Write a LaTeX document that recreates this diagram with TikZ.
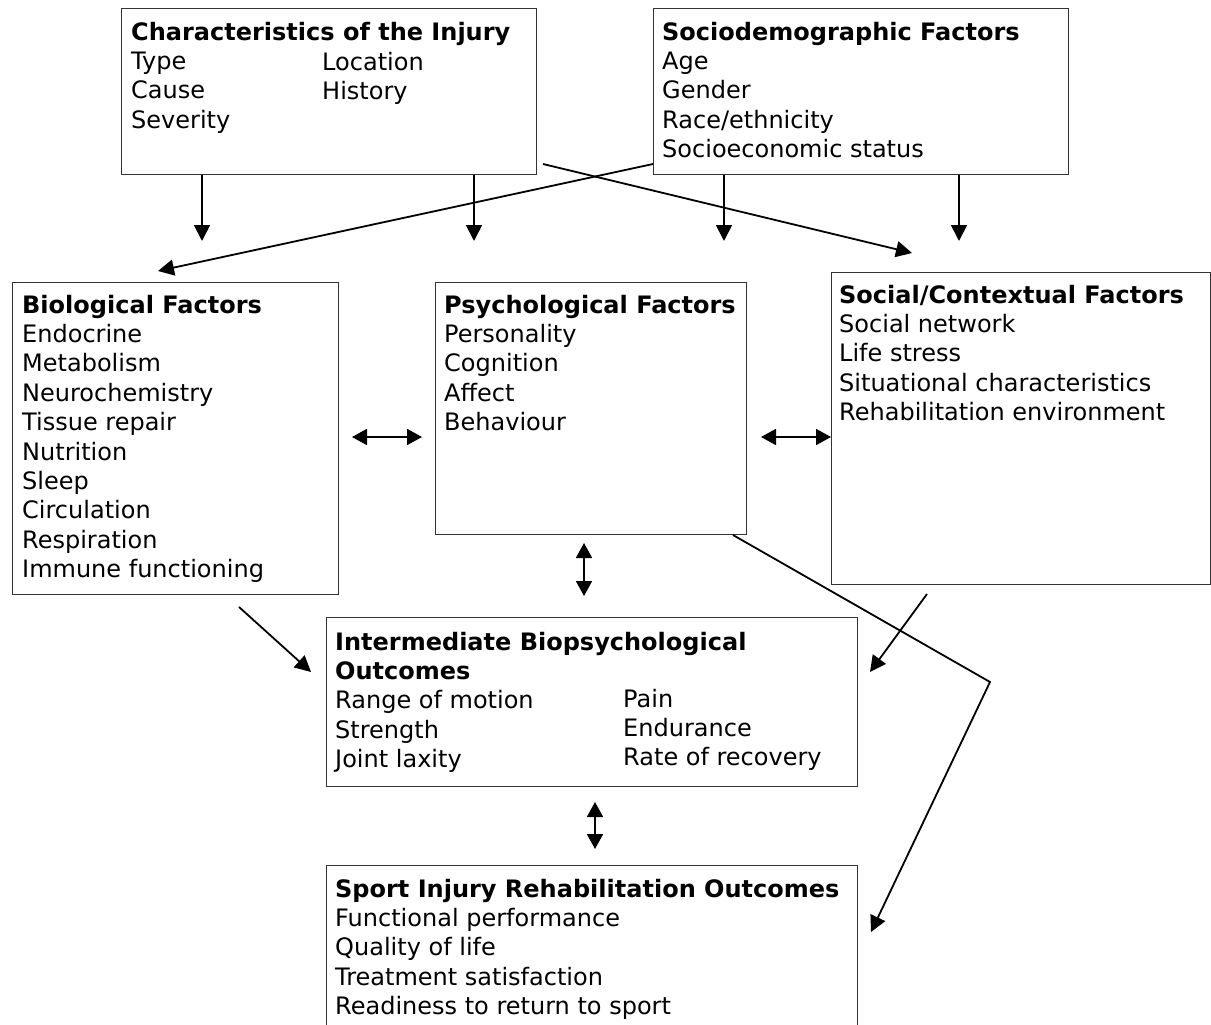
\documentclass[tikz,border=0pt]{standalone}
\usepackage{fontspec}
\setmainfont{DejaVu Sans}
\usetikzlibrary{arrows.meta}
\begin{document}
\begin{tikzpicture}[x=1pt,y=-1pt,
  panel/.style={draw=black!80, line width=1.4pt, inner sep=0pt, anchor=north west},
  boxtext/.style={anchor=north west, inner sep=0pt, align=left,
    font=\fontsize{24}{29.4}\selectfont},
  onearrow/.style={line width=1.8pt, -{Triangle[length=16pt,width=16pt]}},
  twoarrow/.style={line width=1.8pt, {Triangle[length=15pt,width=16pt]}-{Triangle[length=15pt,width=16pt]}}]
\clip (0,0) rectangle (1211,1025);
\fill[white] (0,0) rectangle (1211,1025);

% boxes
\node[panel, minimum width=415pt, minimum height=166pt] (char)   at (121,8) {};
\node[panel, minimum width=415pt, minimum height=166pt] (socio)  at (653,8) {};
\node[panel, minimum width=326pt, minimum height=312pt] (bio)    at (12,282) {};
\node[panel, minimum width=311pt, minimum height=252pt] (psych)  at (435,282) {};
\node[panel, minimum width=379pt, minimum height=312pt] (social) at (831,272) {};
\node[panel, minimum width=531pt, minimum height=169pt] (inter)  at (326,617) {};
\node[panel, minimum width=531pt, minimum height=180pt] (sport)  at (326,865) {};

% box contents
\node[boxtext] (charT) at (131,19.4) {\strut\textbf{Characteristics of the Injury}\\Type\\Cause\\Severity};
\node[boxtext] (charR) at (322,49.4) {\strut Location\\History};
\node[boxtext] (socioT) at (662,19.4) {\strut\textbf{Sociodemographic Factors}\\Age\\Gender\\Race/ethnicity\\Socioeconomic status};
\node[boxtext] (bioT) at (22,292.4) {\strut\textbf{Biological Factors}\\Endocrine\\Metabolism\\Neurochemistry\\Tissue repair\\Nutrition\\Sleep\\Circulation\\Respiration\\Immune functioning};
\node[boxtext] (psychT) at (444,292.4) {\strut\textbf{Psychological Factors}\\Personality\\Cognition\\Affect\\Behaviour};
\node[boxtext] (socialT) at (839,282.4) {\strut\textbf{Social/Contextual Factors}\\Social network\\Life stress\\Situational characteristics\\Rehabilitation environment};
\node[boxtext] (interT) at (335,629.4) {\strut\textbf{Intermediate Biopsychological}\\\textbf{Outcomes}\\Range of motion\\Strength\\Joint laxity};
\node[boxtext] (interR) at (623,686.4) {\strut Pain\\Endurance\\Rate of recovery};
\node[boxtext] (sportT) at (335,876.4) {\strut\textbf{Sport Injury Rehabilitation Outcomes}\\Functional performance\\Quality of life\\Treatment satisfaction\\Readiness to return to sport};

% arrow tips and free ends
\coordinate (c1) at (202,241);
\coordinate (c2) at (474,241);
\coordinate (c3) at (724,241);
\coordinate (c4) at (959,241);
\coordinate (d1s) at (543,164);
\coordinate (d1e) at (912,253);
\coordinate (d2e) at (158,271);
\coordinate (bpL) at (352,437);
\coordinate (bpR) at (422,437);
\coordinate (psL) at (761,437);
\coordinate (psR) at (831,437);
\coordinate (piT) at (584,543);
\coordinate (piB) at (584,596);
\coordinate (isT) at (595,802);
\coordinate (isB) at (595,849);
\coordinate (biS) at (239,607);
\coordinate (biE) at (311,672);
\coordinate (siS) at (927,594);
\coordinate (siE) at (870,672);
\coordinate (psS) at (733,535);
\coordinate (bend) at (990,682);
\coordinate (psE) at (871,932);

% connectors
\draw[onearrow] (char.south -| c1) -- (c1);
\draw[onearrow] (char.south -| c2) -- (c2);
\draw[onearrow] (socio.south -| c3) -- (c3);
\draw[onearrow] (socio.south -| c4) -- (c4);
\draw[onearrow] (d1s) -- (d1e);
\draw[onearrow] (socio.west |- d1s) -- (d2e);
\draw[twoarrow] (bpL) -- (bpR);
\draw[twoarrow] (psL) -- (psR);
\draw[twoarrow] (piT) -- (piB);
\draw[twoarrow] (isT) -- (isB);
\draw[onearrow] (biS) -- (biE);
\draw[onearrow] (siS) -- (siE);
\draw[onearrow] (psS) -- (bend) -- (psE);
\end{tikzpicture}
\end{document}
